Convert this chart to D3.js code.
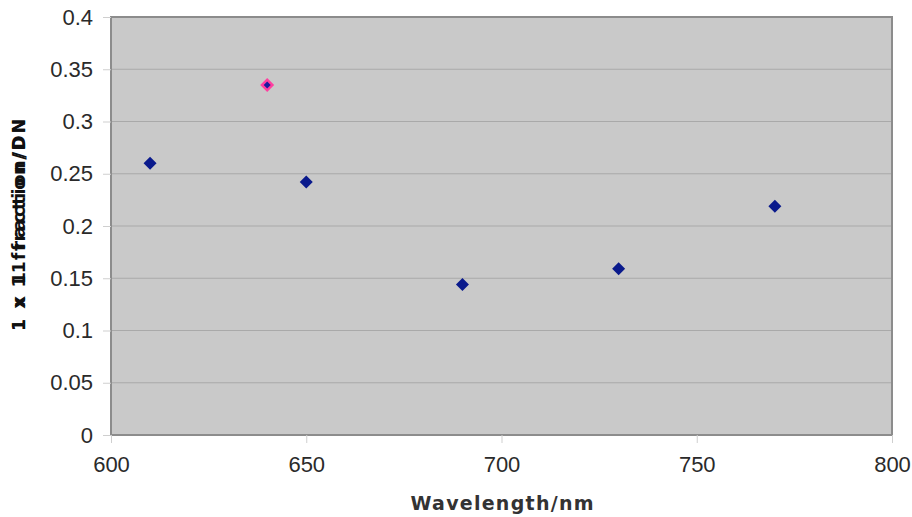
<!DOCTYPE html>
<html><head><meta charset="utf-8">
<script src="https://cdn.jsdelivr.net/npm/d3@7"></script>
<style>body{margin:0;background:#fff}</style>
</head><body>
<svg id="c" width="912" height="517"></svg>
<script>
const wavelengths = [610, 650, 690, 730, 770];
const fractions = [0.26, 0.242, 0.144, 0.159, 0.219];
const pinkWavelengths = [640];
const pinkFractions = [0.335];
const xTicks = [600, 650, 700, 750, 800];
const yTicks = [0, 0.05, 0.1, 0.15, 0.2, 0.25, 0.3, 0.35, 0.4];

const svg = d3.select("#c");
const L = 111, R = 892, T = 17, B = 435;
const x = d3.scaleLinear().domain([600, 800]).range([L, R]);
const y = d3.scaleLinear().domain([0, 0.4]).range([B, T]);

svg.append("rect").attr("x", L).attr("y", T).attr("width", R - L).attr("height", B - T)
  .attr("fill", "#c9c9c9");

svg.append("g").selectAll("line").data(yTicks.filter(d => d > 0 && d < 0.4)).join("line")
  .attr("x1", L).attr("x2", R).attr("y1", d => y(d)).attr("y2", d => y(d))
  .attr("stroke", "#a9a9a9").attr("stroke-width", 1);

svg.append("rect").attr("x", L).attr("y", T).attr("width", R - L).attr("height", B - T)
  .attr("fill", "none").attr("stroke", "#8c8c8c").attr("stroke-width", 2);

const yAxis = svg.append("g").attr("transform", `translate(${L},0)`)
  .call(d3.axisLeft(y).tickValues(yTicks).tickSize(8).tickPadding(10).tickFormat(d => String(+d.toFixed(2))));
const xAxis = svg.append("g").attr("transform", `translate(0,${B})`)
  .call(d3.axisBottom(x).tickValues(xTicks).tickSize(8).tickPadding(13).tickFormat(d3.format("d")));
[yAxis, xAxis].forEach(a => {
  a.select(".domain").remove();
  a.selectAll("line").attr("stroke", "#cfcfcf");
  a.selectAll("text").attr("font-family", "Liberation Sans, Arial, sans-serif")
    .attr("font-size", 22).attr("fill", "#2a2a2a");
});

const dia = r => `M0,${-r}L${r},0L0,${r}L${-r},0Z`;
const pinkPts = pinkWavelengths.map((w, i) => [w, pinkFractions[i]]);
svg.append("g").selectAll("path").data(pinkPts).join("path")
  .attr("d", dia(7)).attr("fill", "#ff3fa0")
  .attr("transform", d => `translate(${x(d[0])},${y(d[1])})`);
svg.append("g").selectAll("path").data(pinkPts).join("path")
  .attr("d", dia(3.5)).attr("fill", "#1a1aa0")
  .attr("transform", d => `translate(${x(d[0])},${y(d[1])})`);
svg.append("g").selectAll("path").data(wavelengths.map((w, i) => [w, fractions[i]])).join("path")
  .attr("d", dia(6.5)).attr("fill", "#0a1a8c")
  .attr("transform", d => `translate(${x(d[0])},${y(d[1])})`);

svg.append("text").attr("x", 502).attr("y", 510).attr("text-anchor", "middle")
  .attr("font-family", "DejaVu Sans, Verdana, sans-serif").attr("font-weight", "bold")
  .attr("font-size", 19).attr("fill", "#333").attr("textLength", 183).attr("lengthAdjust", "spacing")
  .text("Wavelength/nm");

["1 x 1 fraction/DN", "1 x 11 fraction/DN"].forEach(t => {
  svg.append("text").attr("transform", "translate(25,225) rotate(-90)").attr("text-anchor", "middle")
    .attr("font-family", "DejaVu Sans, Verdana, sans-serif").attr("font-weight", "bold")
    .attr("font-size", 17).attr("fill", "#111").attr("textLength", 212).attr("lengthAdjust", "spacing")
    .text(t);
});
</script>
</body></html>
